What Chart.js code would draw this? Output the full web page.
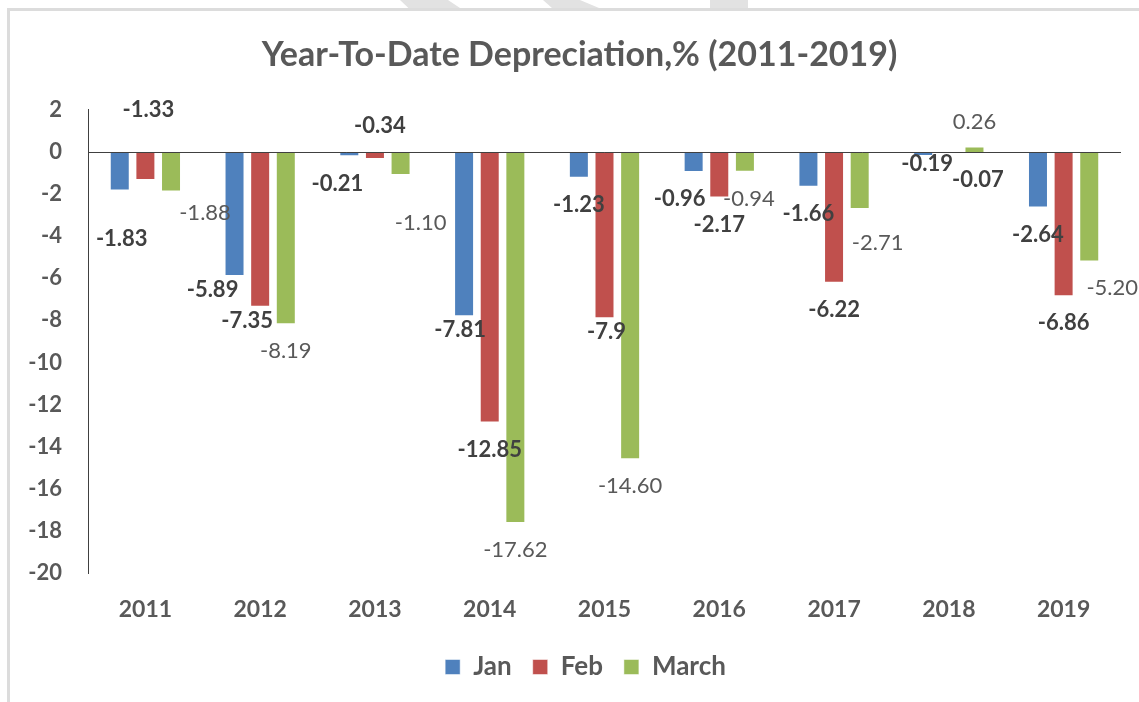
<!DOCTYPE html>
<html>
<head>
<meta charset="utf-8">
<script src="https://cdn.jsdelivr.net/npm/chart.js@4.4.1/dist/chart.umd.min.js"></script>
<style>
  html, body { margin: 0; padding: 0; background: #fff; }
  #wrap { position: relative; width: 1139px; height: 702px; overflow: hidden; }
  .frame-top { position: absolute; left: 7px; top: 8px; width: 1132px; height: 3px; background: #dcdcdc; }
  .frame-left { position: absolute; left: 7px; top: 8px; width: 3px; height: 694px; background: #dcdcdc; }
  .mark { position: absolute; top: 0; height: 8px; background: #e2e2e2; }
  canvas { position: absolute; left: 0; top: 0; }
</style>
</head>
<body>
<div id="wrap">
  <div class="mark" style="left:400px;width:60px;clip-path:polygon(0 0,80% 0,100% 100%,14% 100%)"></div>
  <div class="mark" style="left:543px;width:56px;clip-path:polygon(0 0,66% 0,100% 100%,16% 100%)"></div>
  <div class="mark" style="left:710px;width:38px;clip-path:polygon(0 0,100% 0,100% 100%,0 100%)"></div>
  <div class="frame-top"></div>
  <div class="frame-left"></div>
  <canvas id="chart" width="1139" height="702"></canvas>
</div>
<script>
const years = ["2011", "2012", "2013", "2014", "2015", "2016", "2017", "2018", "2019"];
const janValues = [-1.83, -5.89, -0.21, -7.81, -1.23, -0.96, -1.66, -0.19, -2.64];
const febValues = [-1.33, -7.35, -0.34, -12.85, -7.9, -2.17, -6.22, -0.07, -6.86];
const marchValues = [-1.88, -8.19, -1.10, -17.62, -14.60, -0.94, -2.71, 0.26, -5.20];
const yTicks = [2, 0, -2, -4, -6, -8, -10, -12, -14, -16, -18, -20];

const FONT = "Lato, 'Open Sans', sans-serif";
const TEXT = "#595959";

const labelStyle = [
  { bold: true, color: "#404040", fixed: false },
  { bold: true, color: "#404040", fixed: false },
  { bold: false, color: "#595959", fixed: true },
];

// labels that were dragged away from the default spot, [dx, dy] from bar end
const labelNudge = {
  "0:0": [2, 48], "0:1": [-22, 14], "0:2": [-12, 28], "0:3": [-4, 14], "0:5": [-14, 27], "0:7": [4, 8],
  "1:0": [3, -70], "1:1": [-13, 14], "1:2": [5, -33], "1:4": [2, 14], "1:7": [29, 27],
  "2:0": [34, 21], "2:2": [20, 48], "2:5": [4, 27], "2:6": [18, 34], "2:8": [23, 27],
};

const valueLabels = {
  id: "valueLabels",
  afterDatasetsDraw(chart) {
    const ctx = chart.ctx;
    ctx.save();
    ctx.textAlign = "center";
    ctx.textBaseline = "middle";
    chart.data.datasets.forEach((ds, i) => {
      const meta = chart.getDatasetMeta(i);
      const st = labelStyle[i];
      ctx.font = `${st.bold ? "bold " : ""}22px ${FONT}`;
      ctx.fillStyle = st.color;
      meta.data.forEach((bar, j) => {
        const v = ds.data[j];
        const text = st.fixed ? v.toFixed(2) : String(v);
        const [dx, dy] = labelNudge[`${i}:${j}`] || [0, v < 0 ? 27 : -25];
        ctx.fillText(text, bar.x + dx, bar.y + dy);
      });
    });
    ctx.restore();
  },
};

const zeroLine = {
  id: "zeroLine",
  afterDatasetsDraw(chart) {
    const { ctx, chartArea, scales } = chart;
    const y = Math.round(scales.y.getPixelForValue(0)) + 0.5;
    ctx.save();
    ctx.strokeStyle = "#404040";
    ctx.lineWidth = 1;
    ctx.beginPath();
    ctx.moveTo(chartArea.left, y);
    ctx.lineTo(chartArea.right, y);
    ctx.stroke();
    ctx.restore();
  },
};

// title and legend sit a bit right of the canvas centre in the original
const boxShift = {
  id: "boxShift",
  afterLayout(chart) {
    chart.legend.left += 25;
    chart.legend.right += 25;
    chart.titleBlock.left += 19;
    chart.titleBlock.right += 19;
  },
};

function makeDataset(label, data, color) {
  return {
    label,
    data,
    backgroundColor: color,
    borderColor: "rgba(255,255,255,0.5)",
    borderWidth: 1,
    categoryPercentage: 0.67,
    barPercentage: 0.78,
  };
}

new Chart(document.getElementById("chart"), {
  type: "bar",
  data: {
    labels: years,
    datasets: [
      makeDataset("Jan", janValues, "#4F81BD"),
      makeDataset("Feb", febValues, "#C0504D"),
      makeDataset("March", marchValues, "#9BBB59"),
    ],
  },
  options: {
    responsive: false,
    animation: false,
    layout: { padding: { left: 0, right: 18, top: 0, bottom: 12 } },
    plugins: {
      title: {
        display: true,
        text: "Year-To-Date Depreciation,% (2011-2019)",
        color: TEXT,
        font: { family: FONT, size: 34, weight: "bold" },
        padding: { top: 35, bottom: 34 },
      },
      legend: {
        position: "bottom",
        labels: {
          color: TEXT,
          font: { family: FONT, size: 26, weight: "bold" },
          boxWidth: 15,
          boxHeight: 15,
          padding: 21,
        },
      },
      tooltip: { enabled: false },
    },
    scales: {
      x: {
        grid: { display: false, drawTicks: false },
        border: { display: false },
        ticks: {
          color: TEXT,
          font: { family: FONT, size: 23, weight: "bold" },
          padding: 23,
        },
        afterFit: (scale) => { scale.height = 60; },
      },
      y: {
        min: -20,
        max: 2,
        grid: { display: false, drawTicks: false },
        border: { display: true, color: "#404040", width: 1 },
        afterBuildTicks: (scale) => { scale.ticks = yTicks.map((v) => ({ value: v })); },
        ticks: {
          color: TEXT,
          font: { family: FONT, size: 22, weight: "bold" },
          padding: 26,
        },
        afterFit: (scale) => { scale.width = 88; },
      },
    },
  },
  plugins: [valueLabels, zeroLine, boxShift],
});
</script>
</body>
</html>
